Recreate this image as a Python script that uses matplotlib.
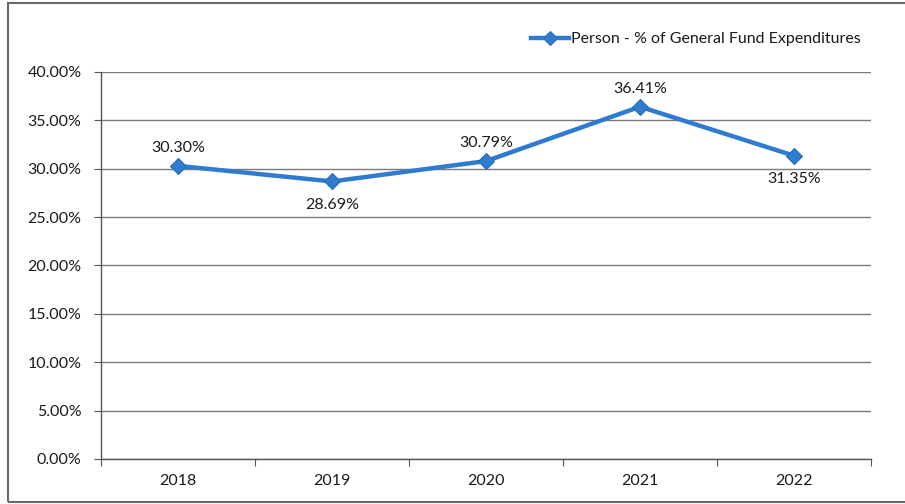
import matplotlib.pyplot as plt
from matplotlib.patches import Rectangle
from matplotlib.ticker import FixedLocator, NullFormatter

# Personnel cost as a share of general fund expenditures, by year
years = ['2018', '2019', '2020', '2021', '2022']
pct = [30.30, 28.69, 30.79, 36.41, 31.35]
label_above = [True, False, True, True, False]
y_ticks = [0, 5, 10, 15, 20, 25, 30, 35, 40]

plt.rcParams['font.family'] = ['Lato', 'DejaVu Sans']

blue = '#2E7BCF'
grid_col = '#7a7a7a'
text_col = '#1a1a1a'
fs = 11.5

fig = plt.figure(figsize=(9.05, 5.04), dpi=100)
ax = fig.add_axes([101 / 905, 45 / 504, 770 / 905, 387 / 504])

x = list(range(len(years)))
ax.plot(x, pct, color=blue, lw=3.2, marker='D', ms=8.5,
        markerfacecolor=blue, markeredgecolor='#2a6db8', mew=0.8,
        label='Person - % of General Fund Expenditures', zorder=3)

for xi, v, up in zip(x, pct, label_above):
    ax.annotate(f'{v:.2f}%', (xi, v), xytext=(0, 8 if up else -12),
                textcoords='offset points', ha='center',
                va='bottom' if up else 'top', fontsize=fs, color=text_col)

ax.set_xlim(-0.5, len(years) - 0.5)
ax.set_ylim(0, 40)
ax.set_yticks(y_ticks)
ax.set_yticklabels([f'{t:.2f}%' for t in y_ticks])
ax.yaxis.grid(True, color=grid_col, lw=1.0)
ax.set_axisbelow(True)

# category boundaries carry the tick marks, centres carry the labels
ax.xaxis.set_major_locator(FixedLocator([i - 0.5 for i in range(len(years) + 1)]))
ax.xaxis.set_major_formatter(NullFormatter())
ax.xaxis.set_minor_locator(FixedLocator(x))
ax.set_xticklabels(years, minor=True)
ax.tick_params(axis='x', which='major', length=5, color='#555555', direction='out')
ax.tick_params(axis='x', which='minor', length=0, pad=11, labelsize=fs,
               labelcolor=text_col)
ax.tick_params(axis='y', length=5, color='#555555', pad=9, labelsize=fs,
               labelcolor=text_col)

for side in ('top', 'right'):
    ax.spines[side].set_visible(False)
for side in ('left', 'bottom'):
    ax.spines[side].set_color('#555555')
    ax.spines[side].set_linewidth(1.0)

ax.legend(loc='center right', bbox_to_anchor=(0.995, 1.085), frameon=False,
          fontsize=fs, handlelength=2.4, handletextpad=0.1, markerscale=0.8,
          borderaxespad=0, labelcolor=text_col)

# chart frame
fig.patches.append(Rectangle((8 / 905, 2 / 504), 905 / 905, 499 / 504,
                             transform=fig.transFigure, fill=False,
                             edgecolor='#6a6a6a', lw=1.5))

fig.savefig('out.png', dpi=100)
